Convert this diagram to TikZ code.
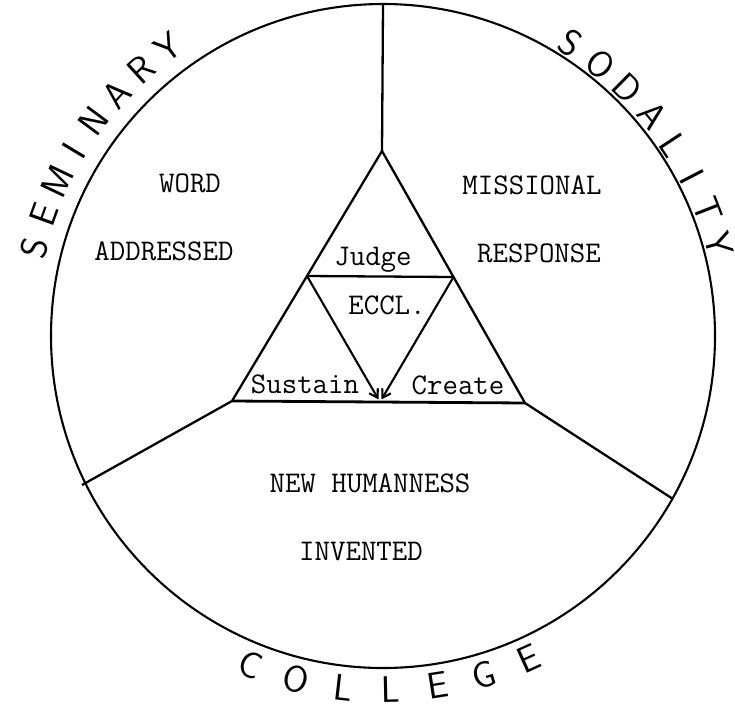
\documentclass[tikz,border=0pt]{standalone}
\usepackage{tikz}
\usetikzlibrary{arrows.meta,calc}

\begin{document}
\begin{tikzpicture}[
    x=1pt, y=1pt,
    >={Straight Barb[length=8pt,width=10pt]},
    lbl/.style={font=\ttfamily\fontsize{30}{36}\selectfont,inner sep=0pt},
    ltr/.style={font=\sffamily\fontsize{37}{40}\selectfont,inner sep=0pt},
    edge/.style={line width=2.3pt},
    arr/.style={->,line width=2.1pt,shorten >=3pt}
  ]
  \useasboundingbox (0,0) rectangle (735,-712);
  %% The circle and its three spokes
  \coordinate (C) at (383,-336);
  \draw[line width=2.1pt] (C) circle[radius=332];
  \coordinate (top) at ($(C)+(90:332)$);
  \coordinate (lft) at (82,-485);
  \coordinate (rgt) at (673,-499);
  %% The triangle in the middle
  \coordinate (A)  at (382,-151);
  \coordinate (BL) at (232,-401);
  \coordinate (BR) at (525,-403);
  \coordinate (ML) at ($(A)!0.5!(BL)$);
  \coordinate (MR) at ($(A)!0.5!(BR)$);
  \coordinate (BM) at (380,-402);
  \draw[edge] (top) -- (A);
  \draw[edge] (lft) -- (BL) -- (A) -- (BR) -- (rgt);
  \draw[edge,line width=2.8pt] (BL) -- (BR);
  \draw[edge] (ML) -- (MR);
  \draw[arr] (ML) -- (BM);
  \draw[arr] (MR) -- (BM);
  %% Sector texts
  \node[lbl] (word)      at (190,-183) {WORD};
  \node[lbl] (addressed) at (164,-251) {ADDRESSED};
  \node[lbl] (missional) at (532,-185) {MISSIONAL};
  \node[lbl] (response)  at (539,-253) {RESPONSE};
  \node[lbl] (newhum)    at (370,-483) {NEW HUMANNESS};
  \node[lbl] (invented)  at (361,-551) {INVENTED};
  %% Triangle texts
  \node[lbl] (judge)   at (373,-260) {Judge};
  \node[lbl] (eccl)    at (387,-305) {ECCL.};
  \node[lbl] (sustain) at (305,-384) {Sustain};
  \node[lbl] (create)  at (458,-385) {Create};
  %% Letters round the circle
  \foreach \ch [count=\i] in {S,E,M,I,N,A,R,Y} {
    \pgfmathsetmacro\ang{165.8-(\i-1)*5.6}
    \node[ltr,rotate=\ang-90] (sem\i) at ($(C)+(\ang:360)$) {\ch};
  }
  \foreach \ch [count=\i] in {S,O,D,A,L,I,T,Y} {
    \pgfmathsetmacro\ang{57.3-(\i-1)*6.0}
    \node[ltr,rotate=\ang-90] (sod\i) at ($(C)+(\ang:348)$) {\ch};
  }
  \foreach \ch [count=\i] in {C,O,L,L,E,G,E} {
    \pgfmathsetmacro\ang{248.1+(\i-1)*7.7}
    \node[ltr,rotate=\ang+90] (col\i) at ($(C)+(\ang:354)$) {\ch};
  }
\end{tikzpicture}
\end{document}
